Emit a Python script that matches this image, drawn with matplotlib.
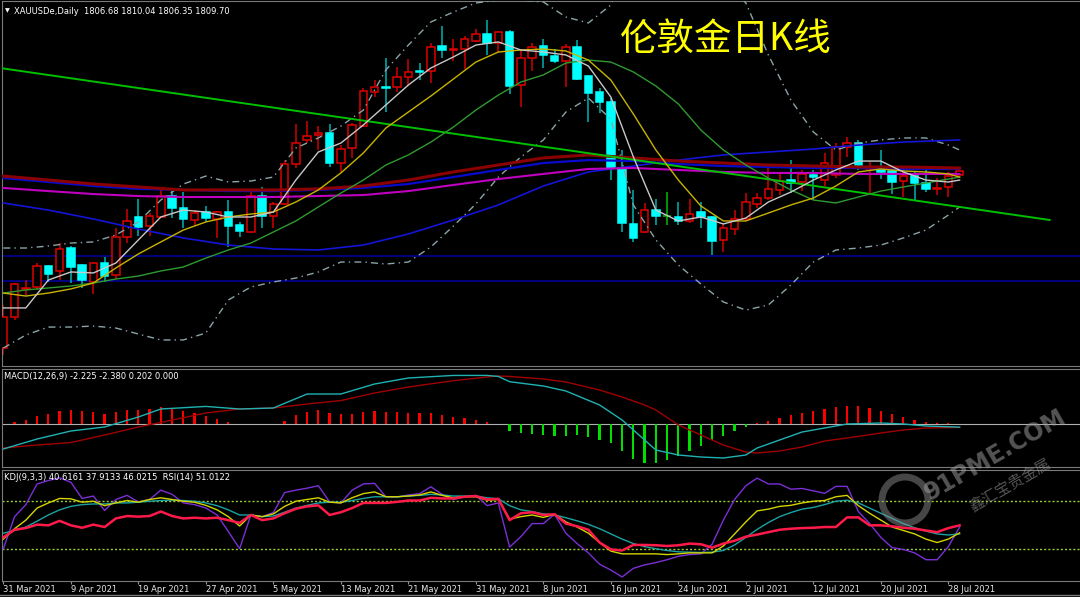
import numpy as np
import matplotlib
matplotlib.use("Agg")
import matplotlib.pyplot as plt
from matplotlib.patches import Rectangle, Ellipse
from matplotlib.lines import Line2D

# ---- daily candles (31 Mar 2021 .. 29 Jul 2021) ----
opens = [1684.4, 1706.3, 1726.1, 1727.5, 1742.3, 1738.8, 1755.0, 1743.0, 1731.0, 1744.4,
         1736.0, 1762.8, 1776.9, 1770.5, 1776.9, 1791.7, 1783.3, 1774.8, 1780.4, 1775.5,
         1780.4, 1771.2, 1766.3, 1791.7, 1777.6, 1786.1, 1814.3, 1831.3, 1834.8, 1836.2,
         1815.0, 1825.6, 1841.1, 1865.1, 1868.7, 1868.7, 1875.7, 1880.0, 1880.0, 1897.6,
         1894.8, 1895.5, 1901.2, 1906.1, 1899.7, 1907.5, 1870.1, 1889.2, 1897.6, 1890.6,
         1887.0, 1896.9, 1876.4, 1865.1, 1858.1, 1811.5, 1772.0, 1766.3, 1781.8, 1777.6,
         1776.9, 1774.1, 1780.4, 1776.9, 1760.7, 1768.4, 1775.5, 1786.1, 1790.3, 1796.0,
         1803.0, 1801.6, 1806.6, 1803.0, 1806.6, 1826.3, 1829.1, 1810.8, 1810.8, 1809.4,
         1802.3, 1805.8, 1800.9, 1796.7, 1798.1, 1806.7]
highs = [1714.8, 1730.3, 1732.4, 1744.4, 1743.0, 1758.5, 1756.4, 1743.7, 1745.1, 1748.7,
         1769.1, 1782.5, 1789.6, 1779.7, 1796.0, 1795.2, 1794.5, 1781.8, 1784.7, 1781.1,
         1788.9, 1773.4, 1796.0, 1798.1, 1787.5, 1817.1, 1842.6, 1844.7, 1841.1, 1842.6,
         1827.7, 1843.3, 1868.0, 1873.6, 1889.2, 1882.8, 1888.5, 1885.6, 1899.7, 1911.7,
         1902.6, 1904.7, 1909.6, 1916.0, 1908.2, 1908.9, 1894.8, 1899.7, 1902.6, 1895.5,
         1899.0, 1901.9, 1877.2, 1868.0, 1860.9, 1824.2, 1796.0, 1786.8, 1789.6, 1794.5,
         1787.5, 1789.6, 1787.5, 1777.6, 1772.0, 1781.8, 1793.8, 1793.8, 1814.3, 1808.0,
         1817.1, 1810.1, 1810.1, 1822.1, 1829.1, 1833.4, 1831.3, 1815.7, 1824.2, 1810.1,
         1810.1, 1809.4, 1810.1, 1804.4, 1808.7, 1810.0]
lows = [1679.5, 1704.2, 1721.8, 1725.4, 1731.0, 1732.4, 1730.3, 1726.8, 1722.5, 1731.0,
        1733.1, 1758.5, 1763.5, 1763.5, 1776.2, 1776.2, 1769.1, 1770.5, 1773.4, 1762.1,
        1755.7, 1762.8, 1765.6, 1769.1, 1769.1, 1785.4, 1811.5, 1829.1, 1824.2, 1812.2,
        1808.7, 1818.6, 1840.4, 1861.6, 1851.0, 1865.1, 1869.4, 1873.6, 1871.5, 1889.2,
        1887.0, 1881.4, 1900.5, 1891.3, 1892.7, 1863.7, 1854.6, 1880.0, 1882.1, 1885.6,
        1868.7, 1873.6, 1844.0, 1850.3, 1803.0, 1766.3, 1759.3, 1765.6, 1771.2, 1771.2,
        1771.2, 1772.7, 1769.1, 1750.1, 1752.2, 1764.2, 1774.1, 1783.3, 1788.9, 1792.4,
        1793.8, 1795.2, 1788.9, 1798.8, 1804.4, 1819.3, 1810.1, 1793.8, 1803.7, 1793.1,
        1791.0, 1788.2, 1794.5, 1792.4, 1791.0, 1806.4]
closes = [1706.3, 1729.6, 1726.8, 1742.3, 1736.7, 1754.3, 1741.6, 1732.4, 1744.4, 1735.2,
          1762.8, 1774.1, 1769.8, 1777.6, 1791.7, 1783.3, 1775.5, 1779.7, 1776.2, 1780.4,
          1770.5, 1767.0, 1791.7, 1777.6, 1786.1, 1814.3, 1829.1, 1834.1, 1836.2, 1815.0,
          1824.9, 1841.9, 1865.9, 1868.7, 1868.0, 1875.7, 1879.3, 1879.3, 1896.9, 1894.8,
          1895.5, 1902.6, 1906.1, 1899.7, 1907.5, 1869.4, 1889.2, 1896.9, 1891.3, 1887.0,
          1896.9, 1874.3, 1864.4, 1858.1, 1811.5, 1772.7, 1762.1, 1781.8, 1777.6, 1777.6,
          1774.1, 1779.0, 1776.9, 1760.0, 1769.1, 1775.5, 1787.5, 1790.3, 1796.7, 1802.3,
          1800.9, 1807.3, 1805.1, 1815.0, 1826.3, 1829.1, 1813.6, 1811.5, 1808.7, 1801.6,
          1805.8, 1800.9, 1796.7, 1797.4, 1805.8, 1809.7]

date_bars = [0, 6, 12, 18, 24, 30, 36, 42, 48, 54, 60, 66, 72, 78, 84]
date_labels = ["31 Mar 2021", "9 Apr 2021", "19 Apr 2021", "27 Apr 2021", "5 May 2021",
               "13 May 2021", "21 May 2021", "31 May 2021", "8 Jun 2021", "16 Jun 2021",
               "24 Jun 2021", "2 Jul 2021", "12 Jul 2021", "20 Jul 2021", "28 Jul 2021"]

# ---- short moving averages + bollinger (read every 2nd bar) ----
ma_bars = [0, 2, 4, 6, 8, 10, 12, 14, 16, 18, 20, 22, 24, 26, 28, 30, 32, 34, 36, 38, 40, 42,
           44, 46, 48, 50, 52, 54, 56, 58, 60, 62, 64, 66, 68, 70, 72, 74, 76, 78, 80, 82, 84, 85]
ma5 = [1712.7, 1712.7, 1732.4, 1738.1, 1737.4, 1744.4, 1760.7, 1776.9, 1781.8, 1780.4, 1776.9,
       1776.9, 1780.4, 1803.0, 1822.8, 1829.1, 1841.9, 1856.0, 1870.1, 1882.1, 1889.9, 1898.3,
       1900.5, 1894.8, 1893.4, 1891.3, 1883.5, 1861.6, 1819.3, 1781.8, 1774.1, 1776.9, 1772.0,
       1776.2, 1787.5, 1794.5, 1803.0, 1810.1, 1816.4, 1816.4, 1808.7, 1803.0, 1801.6, 1803.0]
ma10 = [1723.2, 1721.1, 1723.2, 1726.1, 1730.3, 1740.9, 1750.8, 1759.3, 1767.7, 1773.4, 1776.9,
        1779.0, 1780.4, 1787.5, 1796.0, 1808.0, 1822.1, 1839.7, 1851.0, 1862.3, 1874.3, 1886.3,
        1893.4, 1894.8, 1895.5, 1894.1, 1887.7, 1873.6, 1849.6, 1824.2, 1803.0, 1784.7, 1774.1,
        1774.1, 1779.7, 1785.4, 1790.3, 1798.8, 1808.7, 1810.8, 1809.4, 1808.7, 1807.3, 1805.1]
ma20 = [1723.2, 1725.4, 1726.8, 1728.2, 1730.3, 1733.1, 1735.2, 1738.8, 1741.6, 1747.9, 1753.6,
        1758.5, 1766.3, 1774.1, 1784.0, 1793.8, 1803.0, 1813.6, 1820.7, 1829.8, 1840.4, 1852.4,
        1863.0, 1872.2, 1877.2, 1885.6, 1887.7, 1886.3, 1879.3, 1869.4, 1856.7, 1838.3, 1824.2,
        1813.6, 1804.4, 1796.0, 1788.9, 1786.8, 1791.0, 1795.2, 1798.1, 1800.9, 1803.7, 1805.1]
bb_up = [1755.0, 1755.0, 1756.4, 1758.5, 1759.3, 1764.2, 1773.4, 1788.9, 1800.2, 1805.8, 1801.6,
         1802.3, 1805.1, 1825.6, 1832.7, 1841.1, 1852.4, 1880.7, 1898.3, 1914.6, 1921.6, 1928.0,
         1930.1, 1930.1, 1928.7, 1918.1, 1913.9, 1926.6, 1965.0, 1975.0, 1972.0, 1960.0, 1945.0,
         1928.0, 1891.3, 1859.5, 1836.9, 1824.2, 1829.1, 1831.3, 1832.7, 1832.7, 1827.7, 1824.2]
bb_dn = [1684.4, 1693.6, 1699.2, 1699.2, 1699.9, 1698.5, 1694.3, 1690.1, 1690.1, 1695.0, 1718.3,
         1727.5, 1731.0, 1733.8, 1738.1, 1745.1, 1745.1, 1743.7, 1745.1, 1755.7, 1770.5, 1786.1,
         1805.1, 1819.3, 1831.3, 1851.0, 1860.9, 1846.0, 1785.4, 1760.7, 1743.0, 1729.6, 1716.9,
         1711.2, 1714.8, 1728.9, 1745.1, 1753.6, 1755.0, 1757.1, 1762.1, 1767.7, 1778.3, 1784.0]

# ---- long moving averages (every 4th bar) ----
long_bars = [0, 4, 8, 12, 16, 20, 24, 28, 32, 36, 40, 44, 48, 52, 56, 60, 64, 68, 72, 76, 80, 85]
ma_darkred = [1805.8, 1803.0, 1800.2, 1798.1, 1796.0, 1796.0, 1796.0, 1796.7, 1798.8, 1803.0, 1808.7,
              1813.6, 1818.6, 1820.7, 1818.6, 1816.4, 1815.0, 1813.6, 1812.9, 1812.2, 1812.2, 1811.5]
ma_blue = [1804.4, 1801.6, 1798.8, 1796.7, 1796.0, 1795.2, 1795.2, 1796.0, 1797.4, 1800.2, 1805.1,
           1810.1, 1815.0, 1817.1, 1816.4, 1814.3, 1812.9, 1812.2, 1811.5, 1811.5, 1810.8, 1810.8]
ma_magenta = [1797.4, 1795.2, 1793.1, 1791.7, 1791.0, 1791.0, 1791.0, 1791.7, 1792.4, 1795.2, 1799.5,
              1803.7, 1807.3, 1810.8, 1811.5, 1810.1, 1808.7, 1808.0, 1808.0, 1807.3, 1807.3, 1807.3]
ma_blue2 = [1786.8, 1781.8, 1775.5, 1768.4, 1762.1, 1757.1, 1754.3, 1753.6, 1757.1, 1764.9, 1774.8,
            1785.4, 1798.8, 1808.7, 1812.9, 1817.1, 1820.7, 1822.8, 1824.9, 1827.7, 1829.8, 1831.3]

trend_bars = [-0.3, 93.0]
trend_price = [1882.1, 1774.8]
h_levels = [1749.4, 1731.7]

# ---- MACD ----
macd_bars = [0, 3, 6, 9, 12, 14, 18, 21, 24, 27, 30, 33, 36, 40, 43, 44, 45, 48, 50, 53, 55, 57,
             58, 60, 62, 64, 66, 67, 69, 71, 73, 75, 78, 80, 82, 85]
macd_main = [-17.5, -10.5, -4.9, -2.1, 4.9, 10.5, 12.3, 10.5, 11.2, 21.0, 21.0, 28.0, 32.2, 34.0,
             34.0, 33.3, 29.6, 26.6, 23.1, 13.3, 2.8, -11.2, -18.2, -21.7, -23.1, -23.8, -21.7,
             -16.8, -11.2, -5.6, -2.8, 0.0, 0.7, 0.0, -1.4, -2.2]
macd_signal = [-16.8, -14.7, -13.0, -7.7, -2.1, 1.1, 7.7, 10.5, 11.2, 14.0, 16.4, 21.7, 25.9, 30.3,
               32.9, 33.6, 33.3, 31.5, 29.4, 23.8, 18.9, 13.3, 9.8, -0.7, -7.7, -14.7, -19.6, -20.3,
               -18.9, -16.1, -11.9, -9.8, -6.3, -4.2, -2.8, -2.4]
macd_hist = [0.3, 1.2, 2.7, 5.3, 7.0, 9.4, 9.9, 8.9, 8.2, 7.0, 8.2, 9.9, 9.9, 10.6, 12.0, 11.3, 9.4,
             7.7, 5.3, 3.6, 1.7, -0.2, 0.1, -0.2, -0.2, 2.4, 6.3, 8.2, 9.9, 7.7, 7.0, 7.0, 8.2, 8.9,
             8.2, 8.2, 7.7, 7.5, 7.5, 6.5, 4.8, 3.9, 2.7, 1.2, 0.1, -4.8, -6.3, -6.7, -7.7, -8.4,
             -8.4, -7.7, -9.1, -11.2, -13.3, -18.9, -24.5, -27.3, -27.3, -25.2, -22.4, -18.9, -15.4,
             -11.2, -8.4, -4.9, -2.1, 0.4, 2.1, 4.2, 6.3, 7.7, 9.1, 10.5, 11.9, 12.6, 12.6, 11.2,
             9.1, 7.0, 4.9, 2.8, 1.4, 0.7, 0.4, 0.2]

# ---- KDJ(9,3,3) and RSI(14) ----
kdj_j = [20, 59.9, 74.9, 100.6, 104.9, 108.3, 102.7, 82.6, 85.6, 67.6, 81.3, 86.4, 78.3, 81.3, 92.9,
         87.7, 77, 74.9, 70.6, 62, 41.4, 20, 62, 59.9, 65, 89.9, 92.9, 95.4, 98.4, 78.3, 77, 92.9,
         100.6, 101.4, 84.7, 84.3, 86.9, 88.6, 97.1, 87.7, 81.3, 84.7, 86.4, 73.6, 77, 22.1, 35,
         51.3, 51.3, 62.9, 39.3, 26.4, 14.8, 0.7, -6.6, -15.2, -4.4, -0.2, 2.8, 6.3, 10.6, 12.7,
         13.6, 25.6, 55.6, 81.3, 98.4, 107.9, 100.6, 100.6, 94.1, 95, 92, 89, 97.6, 97.6, 66.3,
         51.3, 34.1, 21.3, 19.1, 14.8, 6.3, 6.3, 22.6, 47]
kdj_k = [32, 44.9, 55.6, 70.6, 77, 82.6, 82.1, 77.9, 79.1, 73.6, 77, 80, 77.9, 81.3, 83.4, 81.3,
         79.1, 77.9, 74, 68.4, 59.9, 48.3, 62, 59.9, 63.3, 72.7, 79.1, 81.3, 83.4, 77.9, 77, 83.4,
         88.6, 90.7, 84.7, 84.7, 85.6, 86.9, 90.7, 86.4, 83.4, 84.7, 84.7, 80.4, 81.3, 56.9, 59.9,
         62, 59, 62.9, 53.4, 47, 39.3, 27.7, 17, 13.6, 13.6, 13.6, 13.6, 12.7, 13.6, 14.8, 14.8,
         14.8, 23.4, 38.4, 53.4, 67.1, 69.3, 72.7, 74, 77, 79.1, 80, 84.7, 86.4, 73.6, 64.1, 55.6,
         47, 42.7, 38.4, 32, 27.7, 32, 39.7]
kdj_d = [39.3, 42.7, 47, 54.3, 62, 68.4, 72.7, 74.9, 75.7, 75.7, 77, 77, 77.9, 79.1, 80, 80.4, 80,
         79.1, 77, 73.6, 68.4, 62, 62, 59.9, 60.7, 65.4, 70.6, 74, 77, 77.9, 77.9, 80, 82.6, 84.7,
         84.7, 84.7, 85.6, 86.4, 87.7, 86.9, 85.6, 85.6, 85.6, 83.4, 82.1, 73.6, 68.4, 66.3, 63.3,
         62, 58.6, 54.7, 50.4, 44.9, 38.4, 32, 26.4, 22.6, 20, 17.8, 16.1, 15.7, 15.3, 15.7, 17.8,
         24.7, 34.1, 44, 52.6, 59.9, 65, 69.3, 71.4, 74.9, 79.1, 80.4, 77, 70.6, 64.1, 57.7, 51.3,
         46.1, 41.9, 38.4, 37.1, 38.4]
rsi = [34.1, 43.6, 45.7, 50, 49.1, 54.7, 49.1, 46.1, 50, 47, 57.7, 60.7, 59.9, 60.7, 66.3, 60.7,
       57.7, 58.6, 57.7, 58.6, 55.6, 52.1, 62, 55.6, 57.7, 64.1, 69.7, 72.7, 74, 62, 65.4, 70.6, 77,
       77, 77, 78.3, 80, 80, 83.4, 82.6, 82.6, 84.7, 85.6, 81.3, 82.1, 55.6, 64.1, 65.4, 62, 62.9,
       51.3, 47.9, 43.6, 27.7, 19.1, 17.8, 24.7, 24.7, 24.3, 23.4, 24.3, 26.4, 25.6, 21.3, 26.4,
       29.9, 35, 37.6, 40.6, 43.6, 44.9, 45.7, 46.1, 47, 47, 59, 59, 49.1, 49.1, 47.9, 46.1, 44.9,
       42.7, 40.6, 45.7, 49.1]

# ---------------------------------------------------------------
W, H = 1080, 597
fig = plt.figure(figsize=(W / 100, H / 100), dpi=100)
fig.patch.set_facecolor("black")


def panel(top, bottom):
    a = fig.add_axes([2 / W, 1 - bottom / H, 1 - 2 / W, (bottom - top) / H])
    a.set_facecolor("black")
    a.set_xlim(-0.12, 95.7)
    for s in a.spines.values():
        s.set_color("#7a7a7a")
    a.spines["right"].set_visible(False)
    a.set_yticks([])
    a.set_xticks([])
    return a


ax = panel(1, 366)
axm = panel(369, 467)
axk = panel(470, 581)

# main chart
ax.set_ylim(1671.7, 1929.4)
for lvl in h_levels:
    ax.axhline(lvl, color="#00008b", lw=1.3, zorder=1)

for i in range(len(opens)):
    o, h, l, c = opens[i], highs[i], lows[i], closes[i]
    if c > o:
        face, edge, wick = "black", "#e00000", "#d00000"
    elif c < o:
        face, edge, wick = "#00ffff", "#00ffff", "#00b4b4"
    else:
        face, edge, wick = "#00c000", "#00c000", "#00c000"
    ax.vlines(i, l, h, color=wick, lw=1.1, zorder=2)
    if abs(c - o) < 0.3:
        ax.hlines(o, i - 0.35, i + 0.35, color=edge, lw=1.1, zorder=3)
    else:
        ax.add_patch(Rectangle((i - 0.34, min(o, c)), 0.68, abs(c - o),
                               facecolor=face, edgecolor=edge, lw=1.1, zorder=3))

dashdot = (0, (5, 3, 1, 3))
ax.plot(ma_bars, bb_up, color="#8aa4a8", lw=1.0, ls=dashdot, zorder=4)
ax.plot(ma_bars, bb_dn, color="#8aa4a8", lw=1.0, ls=dashdot, zorder=4)
ax.plot(long_bars, ma_blue2, color="#1414d8", lw=1.2, zorder=4)
ax.plot(long_bars, ma_magenta, color="#c000c0", lw=1.5, zorder=4)
ax.plot(long_bars, ma_blue, color="#0a0acd", lw=1.6, zorder=4)
ax.plot(long_bars, ma_darkred, color="#8b0000", lw=2.2, zorder=4)
ax.plot(trend_bars, trend_price, color="#00c000", lw=1.4, zorder=4)
ax.plot(ma_bars, ma20, color="#2f9a2f", lw=1.0, zorder=5)
ax.plot(ma_bars, ma10, color="#c8b400", lw=1.0, zorder=5)
ax.plot(ma_bars, ma5, color="#c8c8c8", lw=1.0, zorder=5)

fig.text(5 / W, 1 - 11 / H, "\u25bc", color="white", fontsize=4.5, va="center")
fig.text(14 / W, 1 - 11 / H, "XAUUSDe,Daily  1806.68 1810.04 1806.35 1809.70",
         color="white", fontsize=6, va="center", family="DejaVu Sans")
fig.text(620 / W, 1 - 40 / H, "伦敦金日K线", color="#ffff00", fontsize=27,
         va="center", family=["Noto Sans CJK SC", "DejaVu Sans"])

# MACD
axm.set_ylim(-30.1, 38.5)
axm.axhline(0, color="#b0b0b0", lw=0.8, zorder=1)
hx = np.arange(len(macd_hist))
hv = np.array(macd_hist)
axm.bar(hx[hv >= 0], hv[hv >= 0], width=0.2, color="#ff0000", zorder=2)
axm.bar(hx[hv < 0], hv[hv < 0], width=0.2, color="#00e000", zorder=2)
axm.plot(macd_bars, macd_signal, color="#a00000", lw=1.0, zorder=3)
axm.plot(macd_bars, macd_main, color="#20b2b2", lw=1.0, zorder=3)
fig.text(4 / W, 1 - 376.5 / H, "MACD(12,26,9) -2.225 -2.380 0.202 0.000",
         color="white", fontsize=6, va="center")

# KDJ + RSI
axk.set_ylim(-20.2, 118)
kx = np.arange(len(kdj_k))
for lvl in (80, 20):
    axk.axhline(lvl, color="#9acd32", lw=1.0, ls=(0, (1.5, 1.5)), zorder=1)
axk.plot(kx, kdj_j, color="#7b2fd6", lw=1.0, zorder=3)
axk.plot(kx, kdj_d, color="#1aa3a3", lw=1.0, zorder=3)
axk.plot(kx, kdj_k, color="#d4d400", lw=1.0, zorder=3)
axk.plot(kx, rsi, color="#ff1a4a", lw=1.8, zorder=4)
fig.text(4 / W, 1 - 478 / H, "KDJ(9,3,3) 40.6161 37.9133 46.0215  RSI(14) 51.0122",
         color="white", fontsize=6, va="center")

axk.set_xticks(date_bars)
axk.set_xticklabels(date_labels, fontsize=6, color="#e6e6e6", ha="left")
axk.tick_params(axis="x", length=2, color="#909090", pad=1)

# frame line under the date scale
fig.add_artist(Line2D([0, 1], [1 - 595 / H, 1 - 595 / H], transform=fig.transFigure,
                      color="#7a7a7a", lw=1))

# watermark
fig.patches.append(Ellipse((905 / W, 1 - 500 / H), 46 / W, 46 / H, transform=fig.transFigure,
                           fill=False, edgecolor="#8c8c8c", lw=5, alpha=0.5))
fig.text(995 / W, 1 - 455 / H, "91PME.COM", color="#9a9a9a", alpha=0.55, fontsize=17,
         fontweight="bold", rotation=30, ha="center", va="center")
fig.text(1010 / W, 1 - 485 / H, "鑫汇宝贵金属", color="#9a9a9a", alpha=0.55, fontsize=11,
         rotation=30, ha="center", va="center", family=["Noto Sans CJK SC", "DejaVu Sans"])

fig.savefig("out.png", dpi=100, facecolor="black")
